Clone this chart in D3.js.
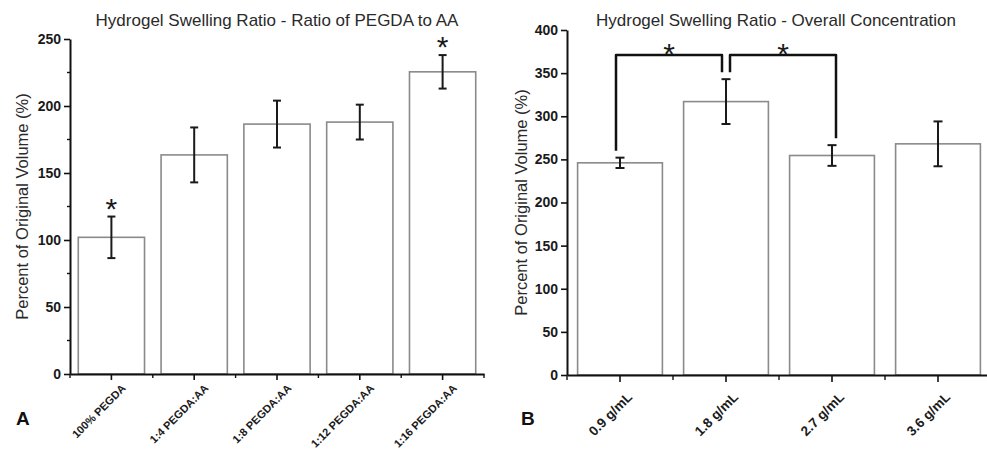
<!DOCTYPE html>
<html>
<head>
<meta charset="utf-8">
<script src="https://cdn.jsdelivr.net/npm/d3@7"></script>
<style>
body { margin: 0; background: #fff; }
text { font-family: "Liberation Sans", Arial, sans-serif; }
</style>
</head>
<body>
<div id="chart"></div>
<script>
// Panel A - ratio of PEGDA to AA
var ratioLabels = ["100% PEGDA", "1:4 PEGDA:AA", "1:8 PEGDA:AA", "1:12 PEGDA:AA", "1:16 PEGDA:AA"];
var ratioMeans = [102, 163.5, 186.5, 188, 225.5];
var ratioErrors = [15.5, 20.5, 17.5, 13, 12.5];
var ratioTicks = [0, 50, 100, 150, 200, 250];
var ratioMinorTicks = [25, 75, 125, 175, 225];
var ratioStars = [0, 4];

// Panel B - overall concentration
var concLabels = ["0.9 g/mL", "1.8 g/mL", "2.7 g/mL", "3.6 g/mL"];
var concMeans = [246, 317, 254.5, 268];
var concErrors = [6, 26, 12, 26];
var concTicks = [0, 50, 100, 150, 200, 250, 300, 350, 400];
var concBrackets = [[0, 1], [1, 2]];
var bracketLevel = 371;

var svg = d3.select("#chart").append("svg")
    .attr("width", 987)
    .attr("height", 454);

function drawPanel(p) {
    var g = svg.append("g");

    var x = d3.scaleBand()
        .domain(p.labels)
        .range([p.left, p.right])
        .paddingInner(0.2)
        .paddingOuter(0.1);
    var y = d3.scaleLinear()
        .domain(p.yDomain)
        .range([p.bottom, p.top]);

    var data = p.labels.map(function(d, i) {
        return {label: d, mean: p.means[i], err: p.errors[i]};
    });

    // bars
    g.selectAll("rect.bar")
        .data(data)
        .enter()
        .append("rect")
        .attr("class", "bar")
        .attr("x", d => x(d.label))
        .attr("y", d => y(d.mean))
        .attr("width", x.bandwidth())
        .attr("height", d => y(0) - y(d.mean))
        .attr("fill", "#fff")
        .attr("stroke", "#8a8a8a")
        .attr("stroke-width", 1.6);

    // error bars
    var cx = d => x(d.label) + x.bandwidth() / 2;
    var eb = g.selectAll("g.err").data(data).enter().append("g")
        .attr("stroke", "#1a1a1a")
        .attr("stroke-width", 2);
    eb.append("line")
        .attr("x1", cx).attr("x2", cx)
        .attr("y1", d => y(d.mean + d.err))
        .attr("y2", d => y(d.mean - d.err));
    eb.append("line")
        .attr("x1", d => cx(d) - p.cap).attr("x2", d => cx(d) + p.cap)
        .attr("y1", d => y(d.mean + d.err)).attr("y2", d => y(d.mean + d.err));
    eb.append("line")
        .attr("x1", d => cx(d) - p.cap).attr("x2", d => cx(d) + p.cap)
        .attr("y1", d => y(d.mean - d.err)).attr("y2", d => y(d.mean - d.err));

    // y axis
    var yAxis = g.append("g")
        .attr("transform", `translate(${p.left},0)`)
        .call(d3.axisLeft(y).tickValues(p.yTicks).tickSize(6).tickSizeOuter(0).tickPadding(3));
    yAxis.select(".domain").attr("stroke", "#111").attr("stroke-width", 2);
    yAxis.selectAll(".tick line").attr("stroke", "#111").attr("stroke-width", 1.6);
    yAxis.selectAll("text")
        .attr("fill", "#1a1a1a")
        .style("font-size", "14px")
        .style("font-weight", "bold");
    if (p.yMinor) {
        g.selectAll("line.yminor").data(p.yMinor).enter().append("line")
            .attr("x1", p.left - 3).attr("x2", p.left)
            .attr("y1", d => y(d)).attr("y2", d => y(d))
            .attr("stroke", "#111").attr("stroke-width", 1.4);
    }

    // x axis
    var xAxis = g.append("g")
        .attr("transform", `translate(0,${p.bottom})`)
        .call(d3.axisBottom(x).tickSize(p.tickLen).tickSizeOuter(0));
    xAxis.select(".domain").attr("stroke", "#111").attr("stroke-width", 2);
    xAxis.selectAll(".tick line").attr("stroke", "#111").attr("stroke-width", 1.6);
    xAxis.selectAll("text")
        .attr("x", 0).attr("y", 0).attr("dy", 0)
        .attr("text-anchor", "end")
        .attr("transform", `translate(${p.labelDx},${p.labelDy}) rotate(-45)`)
        .attr("fill", "#1a1a1a")
        .style("font-size", p.labelSize + "px")
        .style("font-weight", "bold");
    var step = x.step();
    g.selectAll("line.xminor").data(d3.range(p.labels.length + 1)).enter().append("line")
        .attr("x1", d => p.left + d * step).attr("x2", d => p.left + d * step)
        .attr("y1", p.bottom).attr("y2", p.bottom + p.tickLen - 2)
        .attr("stroke", "#111").attr("stroke-width", 1.4);

    // axis title
    g.append("text")
        .attr("transform", `translate(${p.yTitleX},${(p.top + p.bottom) / 2}) rotate(-90)`)
        .attr("text-anchor", "middle")
        .attr("fill", "#2a2a2a")
        .style("font-size", "16.5px")
        .text("Percent of Original Volume (%)");

    // chart title
    g.append("text")
        .attr("x", p.titleX).attr("y", 26)
        .attr("text-anchor", "middle")
        .attr("fill", "#2a2a2a")
        .style("font-size", "17px")
        .text(p.title);

    // panel letter
    g.append("text")
        .attr("x", p.letterX).attr("y", 425)
        .attr("fill", "#111")
        .style("font-size", "19px")
        .style("font-weight", "bold")
        .text(p.letter);

    return {x: x, y: y, g: g, data: data, cx: cx};
}

function star(g, cxv, cyv) {
    var s = 30;
    g.append("text")
        .attr("x", cxv)
        .attr("y", cyv + 0.57 * s)
        .attr("text-anchor", "middle")
        .attr("fill", "#1a1a1a")
        .style("font-size", s + "px")
        .text("*");
}

var a = drawPanel({
    labels: ratioLabels, means: ratioMeans, errors: ratioErrors,
    yDomain: [0, 250], yTicks: ratioTicks, yMinor: ratioMinorTicks,
    left: 70, right: 484, top: 39, bottom: 374,
    cap: 4, tickLen: 6, labelDx: 15, labelDy: 15, labelSize: 11,
    yTitleX: 28, titleX: 277, title: "Hydrogel Swelling Ratio - Ratio of PEGDA to AA",
    letter: "A", letterX: 16
});
ratioStars.forEach(function(i) {
    var d = a.data[i];
    star(a.g, a.cx(d), a.y(d.mean + d.err) - 15);
});

var b = drawPanel({
    labels: concLabels, means: concMeans, errors: concErrors,
    yDomain: [0, 400], yTicks: concTicks, yMinor: null,
    left: 567, right: 991, top: 30, bottom: 375,
    cap: 4.5, tickLen: 7, labelDx: 13, labelDy: 23, labelSize: 13.5,
    yTitleX: 527, titleX: 776, title: "Hydrogel Swelling Ratio - Overall Concentration",
    letter: "B", letterX: 521
});

// significance brackets
var by = b.y(bracketLevel);
concBrackets.forEach(function(pair, k) {
    var d0 = b.data[pair[0]], d1 = b.data[pair[1]];
    var x0 = b.cx(d0) + (k > 0 ? 4 : -4);
    var x1 = b.cx(d1) + (k > 0 ? 4 : -4);
    var y0 = b.y(d0.mean + d0.err + 8);
    var y1 = b.y(d1.mean + d1.err + 8);
    b.g.append("path")
        .attr("d", `M${x0},${y0}V${by}H${x1}V${y1}`)
        .attr("fill", "none")
        .attr("stroke", "#111")
        .attr("stroke-width", 2.5)
        .attr("stroke-linejoin", "round");
    star(b.g, (x0 + x1) / 2, by - 8);
});
</script>
</body>
</html>
